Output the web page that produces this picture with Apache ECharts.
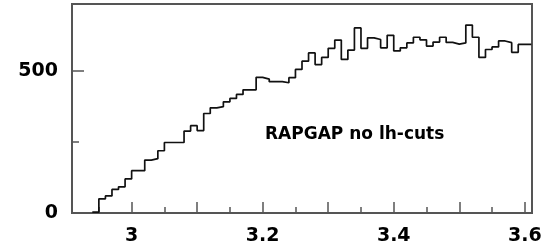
<!DOCTYPE html>
<html>
<head>
<meta charset="utf-8">
<script src="https://cdn.jsdelivr.net/npm/echarts@6/dist/echarts.min.js"></script>
<style>
  html, body { margin: 0; padding: 0; background: #fff; }
  #chart { width: 548px; height: 248px; }
</style>
</head>
<body>
<div id="chart"></div>
<script>
// histogram: bins of width 0.01, first bin starts at 2.94
const binStart = 2.94;
const binWidth = 0.01;
const counts = [
  3, 50, 60, 83, 92, 120, 149, 149, 186, 191,
  219, 248, 248, 248, 288, 307, 290, 350, 370, 374,
  391, 403, 417, 433, 433, 477, 471, 462, 462, 458,
  476, 505, 534, 563, 522, 547, 579, 608, 540, 573,
  651, 579, 616, 610, 581, 625, 570, 581, 598, 618,
  609, 587, 601, 618, 600, 594, 598, 661, 618, 547,
  575, 584, 605, 599, 565, 593, 593
];

const xLabels = [3, 3.2, 3.4, 3.6];
const xMajorTicks = [3, 3.1, 3.2, 3.3, 3.4, 3.5, 3.6];
const xMinorTicks = [2.95, 3.05, 3.15, 3.25, 3.35, 3.45, 3.55];
const yLabels = [0, 500];
const yMinorTicks = [250];

const fontFamily = '"DejaVu Sans", sans-serif';

// step 'end': each point's value holds until the next edge
const lineData = counts.map((c, i) => [+(binStart + i * binWidth).toFixed(2), c]);
lineData.push([+(binStart + counts.length * binWidth).toFixed(2), counts[counts.length - 1]]);

const chart = echarts.init(document.getElementById('chart'), null, { renderer: 'canvas' });

const xBase = {
  type: 'value',
  min: 2.909,
  max: 3.611,
  position: 'bottom',
  splitLine: { show: false }
};
const yBase = {
  type: 'value',
  min: 0,
  max: 735,
  position: 'left',
  splitLine: { show: false }
};

chart.setOption({
  animation: false,
  grid: {
    left: 72, right: 16, top: 4, bottom: 35,
    show: true,
    borderColor: '#555',
    borderWidth: 2,
    backgroundColor: 'transparent'
  },
  xAxis: [
    Object.assign({}, xBase, {
      axisLine: { show: true, lineStyle: { color: '#555', width: 2 } },
      axisTick: {
        show: true, inside: true, length: 11,
        customValues: xMajorTicks,
        lineStyle: { color: '#555', width: 1.5 }
      },
      axisLabel: {
        show: true,
        customValues: xLabels,
        margin: 14,
        color: '#000',
        fontFamily: fontFamily,
        fontWeight: 'bold',
        fontSize: 19
      }
    }),
    Object.assign({}, xBase, {
      axisLine: { show: false },
      axisTick: {
        show: true, inside: true, length: 6,
        customValues: xMinorTicks,
        lineStyle: { color: '#555', width: 1.5 }
      },
      axisLabel: { show: false }
    })
  ],
  yAxis: [
    Object.assign({}, yBase, {
      axisLine: { show: true, lineStyle: { color: '#555', width: 2 } },
      axisTick: {
        show: true, inside: true, length: 12,
        customValues: yLabels,
        lineStyle: { color: '#555', width: 1.5 }
      },
      axisLabel: {
        show: true,
        customValues: yLabels,
        margin: 14,
        color: '#000',
        fontFamily: fontFamily,
        fontWeight: 'bold',
        fontSize: 19
      }
    }),
    Object.assign({}, yBase, {
      axisLine: { show: false },
      axisTick: {
        show: true, inside: true, length: 7,
        customValues: yMinorTicks,
        lineStyle: { color: '#555', width: 1.5 }
      },
      axisLabel: { show: false }
    })
  ],
  series: [{
    type: 'line',
    name: 'RAPGAP',
    step: 'end',
    xAxisIndex: 0,
    yAxisIndex: 0,
    showSymbol: false,
    symbol: 'none',
    lineStyle: { color: '#111', width: 1.7 },
    data: lineData
  }],
  graphic: [{
    type: 'text',
    left: 265,
    top: 126,
    style: {
      text: 'RAPGAP no lh-cuts',
      fill: '#000',
      font: 'bold 17px "DejaVu Sans", sans-serif'
    }
  }]
});
</script>
</body>
</html>
